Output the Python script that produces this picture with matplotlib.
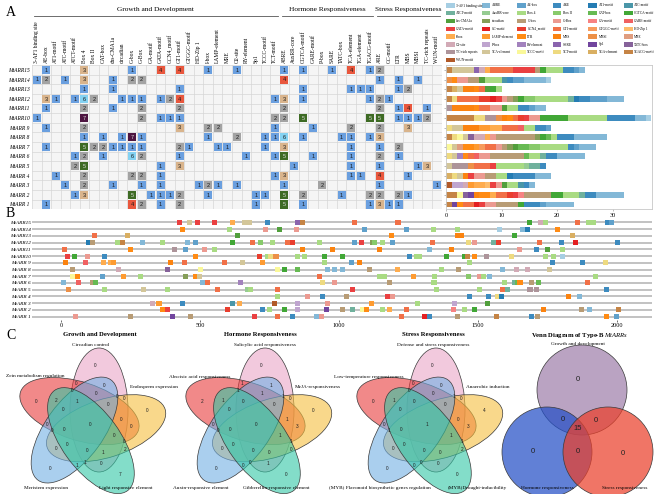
import numpy as np
import matplotlib
matplotlib.use('Agg')
import matplotlib.pyplot as plt
from matplotlib.colors import LinearSegmentedColormap
from matplotlib.patches import Rectangle, Ellipse, Circle

plt.rcParams['font.family'] = 'serif'
plt.rcParams['font.serif'] = ['Liberation Serif', 'DejaVu Serif']
plt.rcParams['mathtext.fontset'] = 'custom'
plt.rcParams['mathtext.rm'] = 'Liberation Serif'
plt.rcParams['mathtext.it'] = 'Liberation Serif:italic'

W, H = 657, 494

# ---------------- data ----------------
genes = ['MtARR15', 'MtARR14', 'MtARR13', 'MtARR12', 'MtARR11', 'MtARR10', 'MtARR 9',
         'MtARR 8', 'MtARR 7', 'MtARR 6', 'MtARR 5', 'MtARR 4', 'MtARR 3', 'MtARR 2', 'MtARR 1']

growth_elems = ['3-AF1 binding site', 'AE-box', 'AT1-motif', 'ATC-motif', 'ATCT-motif', 'Box 4',
                'Box II', 'CAT-box', 'chs-CMA1a', 'circadian', 'G-box', 'G-Box', 'GA-motif',
                'GATA-motif', 'GCN4_motif', 'GT1-motif', 'GTGGC-motif', 'HD-Zip 1', 'I-box',
                'LAMP-element', 'MRE', 'O2-site', 'RY-element', 'Sp1', 'TCCC-motif', 'TCT-motif']
hormone_elems = ['ABRE', 'AuxRR-core', 'CGTCA-motif', 'GARE-motif', 'P-box', 'SARE', 'TATC-box',
                 'TCA-element', 'TGA-element', 'TGACG-motif']
stress_elems = ['ARE', 'GC-motif', 'LTR', 'MBS', 'MBSI', 'TC-rich repeats', 'WUN-motif']
elements = growth_elems + hormone_elems + stress_elems

# counts of each element (columns as in `elements`) per gene (rows as in `genes`)
counts = [
    [0,1,0,0,0,3,0,0,0,0, 1,0,0,4,0,4,0,0,1,0, 0,1,0,0,0,0,1,0,1,0, 0,1,0,4,0,1,2,0,0,0, 0,0,0],
    [1,2,0,1,0,3,0,0,1,0, 2,2,0,0,0,0,0,0,0,0, 0,0,0,0,0,0,4,0,0,0, 0,0,0,0,0,0,1,0,1,0, 1,0,0],
    [0,0,0,0,0,1,0,0,1,0, 0,0,0,0,0,1,0,0,0,0, 0,0,0,0,0,0,0,0,1,0, 0,0,0,1,1,1,0,0,1,2, 0,0,0],
    [0,3,1,0,1,6,2,0,0,1, 1,1,0,1,2,4,0,0,0,0, 0,0,0,0,0,1,3,0,1,0, 0,0,0,0,0,1,2,1,0,0, 0,0,0],
    [0,1,0,0,0,2,0,0,1,0, 0,2,0,0,0,2,0,0,0,0, 0,0,0,0,0,0,2,0,0,0, 0,0,0,0,0,0,2,0,1,4, 0,1,0],
    [1,0,0,0,0,7,0,0,0,0, 0,2,0,1,1,1,0,0,0,0, 0,0,0,0,0,2,2,0,5,0, 0,0,0,0,0,5,5,0,1,1, 1,2,0],
    [0,1,0,0,0,2,0,0,0,0, 0,0,0,0,0,3,0,0,2,2, 0,0,0,0,0,1,0,0,0,1, 0,0,0,2,0,0,2,0,0,3, 0,0,0],
    [0,0,0,0,0,1,0,1,0,1, 7,1,0,0,0,0,0,0,1,0, 0,2,0,0,1,1,6,0,1,0, 0,0,1,1,0,1,3,0,0,0, 0,0,0],
    [0,1,0,0,0,5,2,2,1,1, 1,1,0,0,0,2,1,0,0,1, 1,0,0,0,1,0,3,0,0,0, 0,0,0,1,0,0,1,0,2,0, 0,0,0],
    [0,0,0,0,1,2,0,1,0,0, 6,2,0,0,0,1,0,0,0,0, 0,0,1,0,0,1,5,0,0,1, 0,0,0,1,0,0,2,0,1,0, 0,0,0],
    [0,0,0,0,2,5,0,0,0,0, 0,0,0,1,0,3,0,0,0,0, 0,0,0,0,0,0,0,1,0,0, 0,0,0,1,0,0,1,0,0,0, 1,3,0],
    [0,0,1,0,0,2,0,0,0,0, 2,2,0,1,0,0,0,0,0,0, 0,0,0,0,0,1,3,0,0,0, 0,0,0,1,1,0,4,0,0,1, 0,0,0],
    [0,0,0,1,0,2,0,0,1,0, 0,1,0,1,0,0,0,1,2,1, 0,1,0,0,0,0,1,0,0,0, 2,0,0,0,0,0,1,0,0,0, 0,0,1],
    [0,0,0,0,1,3,0,0,0,0, 5,0,1,1,1,2,0,0,1,0, 0,0,0,1,1,0,5,0,2,0, 0,0,1,0,0,2,2,0,2,1, 0,0,0],
    [0,1,0,0,0,0,0,0,0,0, 4,2,0,1,0,2,0,0,0,0, 0,0,0,1,0,0,5,0,1,0, 0,0,0,0,0,1,3,1,1,0, 0,0,0],
]

# promoter positions (bp) of the elements, one list per gene (same order as genes)
promoter_sites = [
    [(428, 'GATA-motif'), (461, 'TCA-element'), (490, 'GATA-motif'), (554, 'GATA-motif'), (616, 'I-box'),
     (662, 'TCA-element'), (677, 'TCA-element'), (745, 'ARE'), (853, 'SARE'), (871, 'TGACG-motif'),
     (1055, 'GT1-motif'), (1213, 'GT1-motif'), (1685, 'CGTCA-motif'), (1724, 'O2-site'), (1742, 'Box 4'),
     (1858, 'GT1-motif'), (1897, 'Box 4'), (1915, 'Box 4'), (1966, 'ARE'), (1980, 'AE-box')],
    [(439, 'LTR'), (608, 'Box 4'), (738, 'G-Box'), (785, 'chs-CMA1a'), (846, 'G-Box'), (1091, 'AE-box'),
     (1242, 'AE-box'), (1339, 'Box 4'), (1426, 'Box 4'), (1580, '3-AF1 binding site'), (1660, 'ABRE'),
     (1678, 'AT1-motif'), (1786, 'LTR')],
    [(122, 'GT1-motif'), (238, 'TGA-element'), (634, 'chs-CMA1a'), (1188, 'LTR'), (1426, 'MBS'),
     (1440, 'MBS'), (1631, 'CGTCA-motif'), (1840, 'TGA-element')],
    [(101, 'AT1-motif'), (115, 'G-box'), (205, 'Box 4'), (223, 'TGACG-motif'), (295, 'ABRE'), (364, 'Box 4'),
     (457, 'ABRE'), (486, 'AE-box'), (616, 'CGTCA-motif'), (691, 'GT1-motif'), (720, 'Box II'), (760, 'Box 4'),
     (814, 'GT1-motif'), (832, 'GCN4_motif'), (929, 'Box 4'), (1055, 'AE-box'), (1080, 'GATA-motif'),
     (1120, 'circadian'), (1130, 'Box II'), (1159, 'Box 4'), (1195, 'AE-box'), (1336, 'GT1-motif'),
     (1465, 'TCT-motif'), (1490, 'G-Box'), (1555, 'ATCT-motif'), (1573, 'GCN4_motif'), (1721, 'GT1-motif'),
     (1800, 'ARE'), (1850, 'GC-motif'), (2002, 'ARE')],
    [(14, 'GT1-motif'), (252, 'LTR'), (407, 'TC-rich repeats'), (450, 'AE-box'), (515, 'G-Box'), (554, 'Box 4'),
     (871, 'MBS'), (979, 'MBS'), (1145, 'MBS'), (1328, 'ABRE'), (1404, 'MBS'), (1649, 'G-Box'), (1710, 'ARE'),
     (1750, 'chs-CMA1a'), (1804, 'Box 4')],
    [(22, 'GATA-motif'), (50, 'CGTCA-motif'), (94, 'G-Box'), (158, 'ARE'), (486, 'LTR'), (716, 'GCN4_motif'),
     (742, 'Box 4'), (756, 'TCT-motif'), (774, 'MBSI'), (853, 'Box 4'), (875, 'Box 4'), (947, 'CGTCA-motif'),
     (1012, 'CGTCA-motif'), (1253, 'ARE'), (1278, 'Box 4'), (1289, 'Box 4'), (1386, 'CGTCA-motif'),
     (1451, 'CGTCA-motif'), (1462, 'TGACG-motif'), (1490, 'LTR'), (1530, 'TC-rich repeats'), (1620, 'TCT-motif'),
     (1742, 'Box 4'), (1771, 'Box 4'), (1804, '3-AF1 binding site')],
    [(18, 'MBS'), (90, 'GARE-motif'), (155, 'I-box'), (180, 'I-box'), (191, 'LAMP-element'), (396, 'MBS'),
     (446, 'GT1-motif'), (587, 'GT1-motif'), (652, 'TCA-element'), (727, 'LAMP-element'), (947, 'Box 4'),
     (1044, 'AE-box'), (1073, 'MBS'), (1469, 'Box 4'), (1768, 'ARE'), (1876, 'ARE'), (1958, 'TCT-motif')],
    [(43, 'G-box'), (209, 'O2-site'), (385, 'TATC-box'), (504, 'TCCC-motif'), (781, 'TCCC-motif'),
     (803, 'CGTCA-motif'), (853, 'CAT-box'), (961, 'ABRE'), (983, 'ABRE'), (1012, 'ABRE'), (1109, 'G-box'),
     (1210, 'I-box'), (1368, 'Box 4'), (1429, 'G-box'), (1588, 'ABRE'), (1638, 'O2-site'), (1678, 'O2-site'),
     (1757, 'TCA-element')],
    [(43, 'TCCC-motif'), (61, 'LTR'), (151, 'AE-box'), (227, 'LAMP-element'), (288, 'Box 4'), (450, 'circadian'),
     (486, 'LTR'), (500, 'TCA-element'), (932, 'GT1-motif'), (1148, 'Box 4'), (1166, 'Box 4'),
     (1267, 'LAMP-element'), (1343, 'Box 4'), (1465, 'Box II'), (1505, 'G-Box'), (1519, 'Box 4'),
     (1544, 'ABRE'), (1922, 'Box 4')],
    [(11, 'ABRE'), (65, 'GARE-motif'), (115, 'G-box'), (126, 'CAT-box'), (511, 'ABRE'), (526, 'GT1-motif'),
     (648, 'RY-element'), (943, 'TCT-motif'), (986, 'G-Box'), (1181, 'G-box'), (1339, 'Box 4'), (1346, 'Box 4'),
     (1595, 'Box 4'), (1631, 'ATCT-motif'), (1642, 'CAT-box'), (1652, 'LTR'), (1692, 'G-box'),
     (1717, 'CAT-box'), (1894, 'GT1-motif')],
    [(29, 'MBSI'), (158, 'Box 4'), (299, 'TCA-element'), (385, 'Box 4'), (562, 'GT1-motif'), (670, 'AuxRR-core'),
     (684, 'Box 4'), (781, 'GT1-motif'), (1048, 'GATA-motif'), (1350, 'Box 4'), (1505, 'Box 4'),
     (1588, 'GT1-motif'), (1606, 'ATCT-motif'), (1688, 'TC-rich repeats'), (1710, 'TC-rich repeats'),
     (1962, 'ARE')],
    [(778, 'Box 4'), (889, 'G-Box'), (940, 'ARE'), (1026, 'G-box'), (1174, 'GATA-motif'), (1192, 'G-Box'),
     (1472, 'ARE'), (1537, 'ARE'), (1570, 'TCT-motif'), (1584, 'AT1-motif'), (1825, 'MBS'), (1865, 'ABRE')],
    [(328, 'O2-site'), (353, 'LAMP-element'), (439, 'ARE'), (619, 'ATC-motif'), (641, 'I-box'),
     (770, 'WUN-motif'), (850, 'P-box'), (961, 'G-Box'), (1116, 'LAMP-element'), (1282, 'Box 4'),
     (1415, 'P-box'), (1534, 'chs-CMA1a')],
    [(367, 'LTR'), (382, 'GATA-motif'), (601, 'GCN4_motif'), (724, 'ARE'), (749, 'Box 4'), (806, 'CGTCA-motif'),
     (850, 'P-box'), (954, 'Sp1'), (1012, 'G-box'), (1051, 'ATCT-motif'), (1084, 'TCCC-motif'), (1098, 'LTR'),
     (1159, 'Box 4'), (1181, 'I-box'), (1242, 'GT1-motif'), (1411, 'GA-motif'), (1454, 'Box 4'),
     (1487, 'CGTCA-motif'), (1735, 'MBS'), (1872, 'G-box'), (1901, 'ABRE'), (2005, 'TGACG-motif')],
    [(54, 'G-Box'), (252, 'G-box'), (403, 'Sp1'), (468, 'G-box'), (698, 'GATA-motif'), (781, 'GT1-motif'),
     (832, 'ARE'), (918, 'ABRE'), (936, 'G-Box'), (1224, 'GT1-motif'), (1307, 'GC-motif'), (1328, 'ARE'),
     (1426, 'G-box'), (1566, 'TGACG-motif'), (1692, 'ARE'), (1714, 'G-box'), (1962, 'LTR'), (1998, 'AE-box')],
]

light_elems = ['3-AF1 binding site', 'AE-box', 'AT1-motif', 'ATC-motif', 'ATCT-motif', 'Box 4', 'Box II',
               'chs-CMA1a', 'G-box', 'G-Box', 'GA-motif', 'GATA-motif', 'GT1-motif', 'GTGGC-motif', 'I-box',
               'LAMP-element', 'MRE', 'Sp1', 'TCCC-motif', 'TCT-motif']
# venn sets in order: top, upper-left, right, lower-left, lower-right
growth_sets = [('Circadian control', ['circadian']),
               ('Zein metabolism regulation', ['O2-site']),
               ('Endosperm expression', ['GCN4_motif']),
               ('Meristem expression', ['CAT-box']),
               ('Light responsive element', light_elems)]
hormone_sets = [('Salicylic acid responsiveness', ['TCA-element', 'SARE']),
                ('Abscisic acid responsiveness', ['ABRE']),
                ('MeJA-responsiveness', ['CGTCA-motif', 'TGACG-motif']),
                ('Auxin-responsive element', ['AuxRR-core', 'TGA-element']),
                ('Gibberellin-responsive element', ['GARE-motif', 'P-box', 'TATC-box'])]
stress_sets = [('Defense and stress responsiveness', ['TC-rich repeats']),
               ('Low-temperature responsiveness', ['LTR']),
               ('Anaerobic induction', ['ARE', 'GC-motif']),
               ('(MYB) Flavonoid biosynthetic genes regulation', ['MBSI']),
               ('(MYB)Drought-inducibility', ['MBS'])]
type_sets = [('Growth and development', growth_elems),
             ('Hormone responsiveness', hormone_elems),
             ('Stress responsiveness', stress_elems)]

# ---------------- styles ----------------
counts_arr = np.array(counts)
n_gene, n_col = counts_arr.shape
legend_order = sorted(elements, key=str.lower)
paired = ['#a6cee3', '#1f78b4', '#b2df8a', '#33a02c', '#fb9a99', '#e31a1c',
          '#fdbf6f', '#ff7f00', '#cab2d6', '#6a3d9a', '#ffff99', '#b15928']
ramp = LinearSegmentedColormap.from_list('paired_ramp', paired)
el_color = {el: ramp(i / (len(legend_order) - 1)) for i, el in enumerate(legend_order)}
count_colors = {1: '#6a9fdf', 2: '#a3a3a3', 3: '#d9b48c', 4: '#e9573d', 5: '#3e6b24', 6: '#84d2f2', 7: '#4e1541'}

fig = plt.figure(figsize=(W / 100, H / 100), dpi=100)


def px_axes(x0, y0, x1, y1):
    return fig.add_axes([x0 / W, 1 - y1 / H, (x1 - x0) / W, (y1 - y0) / H])


# ---------------- A: heatmap ----------------
ax = px_axes(32, 65.2, 441.5, 209.3)
ax.set_facecolor('#f5f5f5')
ax.set_xlim(-0.5, n_col - 0.5)
ax.set_ylim(n_gene - 0.5, -0.5)
ax.set_xticks(range(n_col))
ax.set_xticklabels(elements, rotation=90, fontsize=4)
ax.xaxis.tick_top()
ax.set_yticks(range(n_gene))
ax.set_yticklabels(genes, fontsize=4, fontstyle='italic')
ax.tick_params(length=0, pad=1.5)
ax.set_xticks(np.arange(-0.5, n_col), minor=True)
ax.set_yticks(np.arange(-0.5, n_gene), minor=True)
ax.tick_params(which='minor', length=0)
ax.grid(which='minor', color='#d6d6d6', lw=0.5)
ax.set_axisbelow(True)
for s in ax.spines.values():
    s.set_visible(False)
for r in range(n_gene):
    for c in range(n_col):
        v = counts_arr[r, c]
        if v:
            ax.add_patch(Rectangle((c - 0.42, r - 0.42), 0.84, 0.84, fc=count_colors[v], ec='none'))
            ax.text(c, r + 0.03, str(v), ha='center', va='center', fontsize=4, family='Liberation Sans',
                    color='#dddddd' if v in (5, 7) else '#1a1a1a')

trans = ax.get_xaxis_transform()
groups = [('Growth and Development', 0, len(growth_elems) - 1),
          ('Hormone Responsiveness', len(growth_elems), len(growth_elems) + len(hormone_elems) - 1),
          ('Stress Responsiveness', len(growth_elems) + len(hormone_elems), n_col - 1)]
for name, lo, hi in groups:
    ax.text((lo + hi) / 2, 1.385, name, transform=trans, ha='center', va='center', fontsize=5.3, clip_on=False)
    ax.plot([lo - 0.3, hi + 0.3], [1.342, 1.342], transform=trans, color='#555555', lw=0.6, clip_on=False)

# ---------------- A: stacked bars ----------------
axb = px_axes(446, 65.2, 652, 209.3)
left = np.zeros(n_gene)
for el in reversed(legend_order):
    w = counts_arr[:, elements.index(el)]
    axb.barh(np.arange(n_gene), w, left=left, height=0.62, color=el_color[el], lw=0)
    left += w
axb.set_xlim(0, 37.1)
axb.set_ylim(n_gene - 0.5, -0.5)
axb.set_xticks([0, 10, 20, 30])
axb.set_yticks(range(n_gene))
axb.set_yticklabels([])
axb.tick_params(labelsize=4.5, length=1.5, width=0.4, pad=1.5, color='#888888')
for s in axb.spines.values():
    s.set_color('#c8c8c8')
    s.set_linewidth(0.6)

# legend
axl = px_axes(440, 0, 657, 64)
axl.set_xlim(0, 217)
axl.set_ylim(64, 0)
axl.axis('off')
for i, el in enumerate(legend_order):
    row, col = divmod(i, 6)
    x, y = 6 + col * 35.6, 5.5 + row * 7.8
    axl.add_patch(Rectangle((x, y - 2.2), 8.5, 4.4, fc=el_color[el], ec='none'))
    axl.text(x + 10.2, y, el, fontsize=2.5, va='center', ha='left')

# ---------------- B: promoter map ----------------
axB = px_axes(32, 219, 652, 320)
x_lo, x_hi = -104, 2127
axB.set_xlim(x_lo, x_hi)
axB.set_ylim(n_gene - 0.5, -0.5)
axB.hlines(range(n_gene), x_lo, x_hi, color='#b8b8b8', lw=1.2, zorder=1)
for r, sites in enumerate(promoter_sites):
    xs = [p for p, e in sites]
    cs = [el_color[e] for p, e in sites]
    axB.scatter(xs, [r] * len(xs), marker='s', s=13, c=cs, lw=0, zorder=2)
axB.set_xticks([0, 500, 1000, 1500, 2000])
axB.set_yticks(range(n_gene))
axB.set_yticklabels(genes, fontsize=3.8, fontstyle='italic')
axB.tick_params(axis='x', labelsize=4.5, length=1.5, width=0.4, pad=1)
axB.tick_params(axis='y', length=0, pad=1)
for s in axB.spines.values():
    s.set_visible(False)

# ---------------- C: venn diagrams ----------------
ov = fig.add_axes([0, 0, 1, 1])
ov.set_xlim(0, W)
ov.set_ylim(H, 0)
ov.axis('off')

for letter, (lx, ly) in zip('ABC', [(11, 12), (10, 213), (11, 335)]):
    ov.text(lx, ly, letter, fontsize=10, ha='center', va='center')


def gene_member(elems):
    idx = [elements.index(e) for e in elems]
    return counts_arr[:, idx].sum(axis=1) > 0


def region_numbers(cx, cy, shapes, member, fs, family='Liberation Sans'):
    g = np.arange(-95, 95, 0.5)
    X, Y = np.meshgrid(g, g)
    code = np.zeros(X.shape, int)
    margin = np.full(X.shape, np.inf)
    for i, (ox, oy, th, a, b) in enumerate(shapes):
        u = (X - ox) * np.cos(th) + (Y - oy) * np.sin(th)
        v = -(X - ox) * np.sin(th) + (Y - oy) * np.cos(th)
        rr = np.sqrt((u / a) ** 2 + (v / b) ** 2)
        code += (rr < 1) * (1 << i)
        margin = np.minimum(margin, np.abs(rr - 1) * b)
    gene_codes = sum(m.astype(int) * (1 << i) for i, m in enumerate(member))
    for c in range(1, 2 ** len(shapes)):
        sel = code == c
        if not sel.any():
            continue
        k = np.argmax(np.where(sel, margin, -1))
        ov.text(cx + X.flat[k], cy - Y.flat[k], str(int(np.sum(gene_codes == c))), fontsize=fs,
                ha='center', va='center', family=family, color='#222222')


ELL_A, ELL_B, ELL_OFF = 62, 29, (9, 14)
venn5_colors = ['#eaa5c7', '#e83a3a', '#f5bf3e', '#72b0e4', '#31c7a5']
slot_of_set = [0, 1, 4, 2, 3]  # rotation step (x72 deg) for top, upper-left, right, lower-left, lower-right


def venn5(cx, cy, sets, title, title_off, label_offs):
    shapes = [None] * 5
    for si, (name, elems) in enumerate(sets):
        t = np.deg2rad(72 * slot_of_set[si])
        ox = ELL_OFF[0] * np.cos(t) - ELL_OFF[1] * np.sin(t)
        oy = ELL_OFF[0] * np.sin(t) + ELL_OFF[1] * np.cos(t)
        th = np.deg2rad(90 + 72 * slot_of_set[si])
        shapes[si] = (ox, oy, th, ELL_A, ELL_B)
        ov.add_patch(Ellipse((cx + ox, cy - oy), 2 * ELL_A, 2 * ELL_B, angle=-np.rad2deg(th),
                             fc=venn5_colors[si], alpha=0.6, ec='none'))
        ov.add_patch(Ellipse((cx + ox, cy - oy), 2 * ELL_A, 2 * ELL_B, angle=-np.rad2deg(th),
                             fc='none', ec='#3a3a3a', lw=0.5))
        dx, dy = label_offs[si]
        ov.text(cx + dx, cy + dy, name, fontsize=3.8, ha='center', va='center')
    member = [gene_member(e) for n, e in sets]
    region_numbers(cx, cy, shapes, member, 3.4)
    ov.text(cx + title_off, cy - 90, title, fontsize=4.8, fontweight='bold', ha='center', va='center')


venn5(90, 424, growth_sets, 'Growth and Development', 10,
      [(1, -79), (-55, -48), (64, -37), (-44, 64), (36, 64)])
venn5(256, 424, hormone_sets, 'Hormone Responsiveness', 4,
      [(9, -79), (-56, -47), (62, -37), (-55, 64), (20, 64)])
venn5(427, 424, stress_sets, 'Stress Responsiveness', 6,
      [(6, -79), (-58, -47), (61, -37), (-47, 64), (50, 64)])

# three-set venn
circ_centers = [(582, 390), (547, 452), (608, 452)]
circ_r = 45
circ_colors = ['#a080ab', '#244fc7', '#eb402b']
circ_label_xy = [(578, 344), (547, 488), (625, 488)]
shapes3 = []
for (name, elems), (x, y), col, (lx, ly) in zip(type_sets, circ_centers, circ_colors, circ_label_xy):
    ov.add_patch(Circle((x, y), circ_r, fc=col, alpha=0.72, ec='none'))
    ov.add_patch(Circle((x, y), circ_r, fc='none', ec='#3a3a3a', lw=0.5))
    ov.text(lx, ly, name, fontsize=3.8, ha='center', va='center')
vc = np.mean(circ_centers, axis=0)
for (x, y) in circ_centers:
    shapes3.append((x - vc[0], vc[1] - y, 0.0, circ_r, circ_r))
region_numbers(vc[0], vc[1], shapes3, [gene_member(e) for n, e in type_sets], 5.5)
ov.text(580, 335, 'Venn Diagram of Type-B $\\mathit{MtARRs}$', fontsize=4.8, fontweight='bold',
        ha='center', va='center')

fig.savefig('out.png', dpi=100)
